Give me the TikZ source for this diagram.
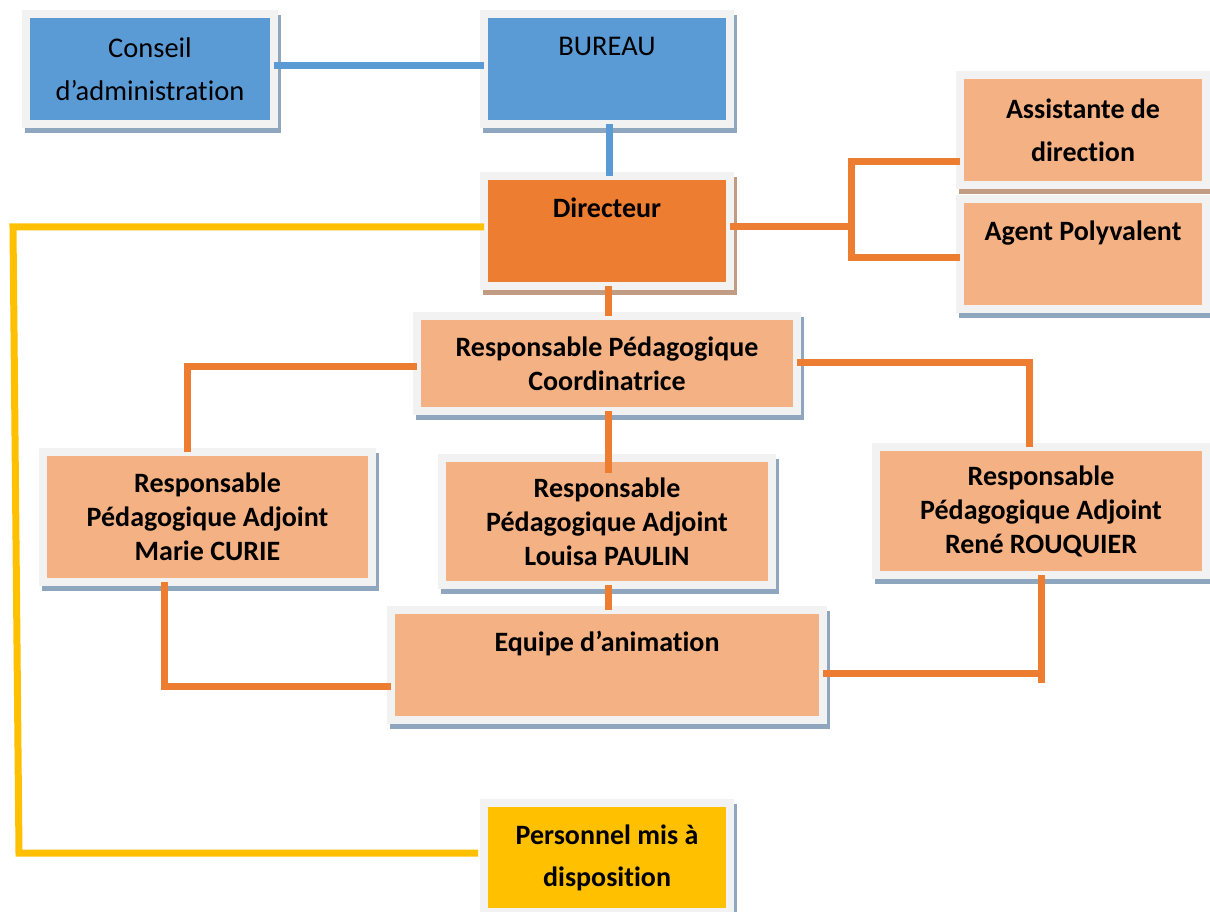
\documentclass[tikz,border=0pt]{standalone}
\usepackage{fontspec}
\setmainfont{Carlito}[Ligatures=NoCommon]
\usetikzlibrary{positioning,shadows}
\definecolor{boxblue}{HTML}{5B9BD5}
\definecolor{boxorange}{HTML}{ED7D31}
\definecolor{boxpeach}{HTML}{F4B183}
\definecolor{boxyellow}{HTML}{FFC000}
\definecolor{framegray}{HTML}{F2F2F2}
\definecolor{shadeblue}{HTML}{8EA7BE}
\definecolor{shadebrown}{HTML}{C29C82}

\begin{document}
\begin{tikzpicture}[x=1pt,y=-1pt,line join=miter,
		box/.style={rectangle,draw=framegray,line width=8pt,inner sep=0pt,outer sep=0pt,align=center,
			font=\fontsize{28}{34}\selectfont\bfseries,
			drop shadow={shadow xshift=3pt,shadow yshift=-5pt,opacity=1,fill=#1,draw=#1,line width=8pt}},
		box/.default=shadeblue,
		link/.style={line width=7pt,draw=#1}]
			\useasboundingbox (0,0) rectangle (1210,912);
			\node[box,fill=boxblue,minimum width=246pt,minimum height=110pt,text depth=46pt,font=\fontsize{28.5}{43}\selectfont] (bureau) at (607,69) {BUREAU};
			\node[box,fill=boxblue,minimum width=248pt,minimum height=110pt,font=\fontsize{28.5}{43}\selectfont] [left=210pt of bureau] (conseil) {Conseil\\d’administration};
			\node[box=shadebrown,fill=boxorange,minimum width=246pt,minimum height=110pt,text depth=46pt] [below=52pt of bureau] (directeur) {Directeur};
			\node[box,fill=boxpeach,minimum width=246pt,minimum height=110pt,text depth=46pt] [right=230pt of directeur,yshift=-23pt] (agent) {Agent Polyvalent};
			\node[box=shadebrown,fill=boxpeach,minimum width=246pt,minimum height=110pt,font=\fontsize{28}{43}\selectfont\bfseries] [above=14pt of agent] (assistante) {Assistante de\\direction};
			\node[box,fill=boxpeach,minimum width=380pt,minimum height=95pt] [below=30pt of directeur] (coord) {Responsable Pédagogique\\Coordinatrice};
			\node[box,fill=boxpeach,minimum width=330pt,minimum height=127pt] [below=47pt of coord] (louisa) {Responsable\\Pédagogique Adjoint\\Louisa PAULIN};
			\node[box,fill=boxpeach,minimum width=329pt,minimum height=130pt] [left=70pt of louisa,yshift=4.5pt] (marie) {Responsable\\Pédagogique Adjoint\\Marie CURIE};
			\node[box,fill=boxpeach,minimum width=330pt,minimum height=128pt] [right=104pt of louisa,yshift=10.5pt] (rene) {Responsable\\Pédagogique Adjoint\\René ROUQUIER};
			\node[box,fill=boxpeach,minimum width=432pt,minimum height=110pt,text depth=48pt] [below=25pt of louisa] (equipe) {Equipe d’animation};
			\node[box,fill=boxyellow,minimum width=246pt,minimum height=109pt,font=\fontsize{28}{42}\selectfont\bfseries] [below=83pt of equipe] (personnel) {Personnel mis à\\disposition};
			% liaisons
			\draw[link=boxblue] ([yshift=3pt]conseil.east) -- ([yshift=3pt]bureau.west);
			\draw[link=boxblue] ([xshift=2pt]bureau.south) -- ([xshift=2pt]directeur.north);
			\draw[link=boxorange] ([yshift=4pt]directeur.east) -- ++(121,0) coordinate (fork);
			\draw[link=boxorange] ([yshift=-32pt]assistante.west) -| (fork) |- ([yshift=-3pt]agent.west);
			\draw[link=boxorange] ([xshift=1pt]directeur.south) -- ([xshift=1pt]coord.north);
			\draw[link=boxorange] ([yshift=-2.5pt]coord.west) -| ([xshift=-20pt]marie.north);
			\draw[link=boxorange] ([yshift=1.5pt]coord.east) -| ([xshift=-12pt]rene.north);
			\draw[link=boxorange] ([xshift=1pt]coord.south) -- ([xshift=1pt,yshift=-15pt]louisa.north);
			\draw[link=boxorange] ([xshift=1pt]louisa.south) -- ([xshift=1pt]equipe.north);
			\draw[link=boxorange] ([xshift=-43pt]marie.south) |- ([yshift=-21pt]equipe.west);
			\draw[link=boxorange] (rene.south) -- ++(0,108);
			\draw[link=boxorange] ([yshift=-8pt]equipe.east) -- ([yshift=-8pt]equipe.east -| rene.south);
			% personnel mis a disposition
			\coordinate (ytop) at (13,227);
			\coordinate (ybot) at (19,853);
			\draw[link=boxyellow] (directeur.west |- ytop) -- (ytop) -- (ybot) -- ([xshift=-6pt]personnel.west |- ybot);
		\end{tikzpicture}
\end{document}
